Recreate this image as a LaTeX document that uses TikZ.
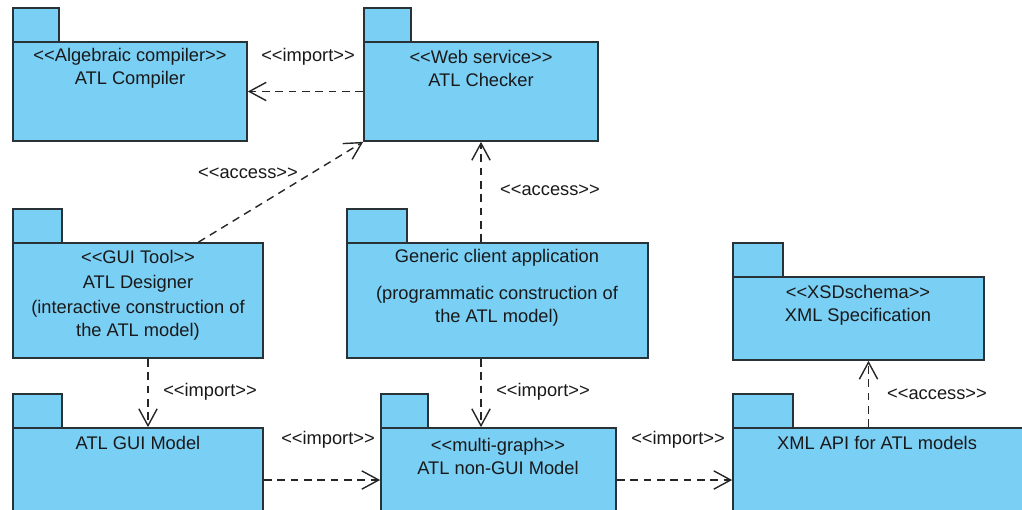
\documentclass[tikz,border=0pt]{standalone}
\usepackage{fontspec}
\setmainfont{Liberation Sans}[Ligatures=TeXOff]
\usetikzlibrary{arrows.meta,fit,calc}
\definecolor{pkgblue}{RGB}{122,207,245}
\definecolor{pkgline}{RGB}{40,50,55}
\tikzset{
  pkg/.style={draw=pkgline, line width=1.2pt, fill=pkgblue, inner sep=0pt},
  pkgtext/.style={align=center, text=black!90, inner sep=1pt, font=\fontsize{13}{16.3}\selectfont},
  dep/.style={draw=black!85, line width=1pt, dash pattern=on 5.5pt off 4pt,
    -{Straight Barb[length=12pt,width=13pt,line width=1pt]}},
}
\begin{document}
\begin{tikzpicture}[x=0.025cm, y=-0.025cm]
  \useasboundingbox (0,0) rectangle (1022,509);
  \clip (0,0) rectangle (1022,509);

  % ATL Compiler
  \draw[pkg] (13,8) rectangle (59,42);
  \node[pkg, fit={(13,42) (247,141)}] (compiler) {};
  \node[pkgtext] (compilername) at (130,68) {<<Algebraic compiler>>\\ATL Compiler};

  % ATL Checker
  \draw[pkg] (364,8) rectangle (411,42);
  \node[pkg, fit={(364,42) (598,141)}] (checker) {};
  \node[pkgtext] (checkername) at (481,68) {<<Web service>>\\ATL Checker};

  % ATL Designer
  \draw[pkg] (13,209) rectangle (62,243);
  \node[pkg, fit={(13,243) (263,358)}] (designer) {};
  \node[pkgtext] (designername) at (138,295) {<<GUI Tool>>\\[2pt]ATL Designer\\[1pt](interactive construction of\\the ATL model)};

  % Generic client application
  \draw[pkg] (347,209) rectangle (407,243);
  \node[pkg, fit={(347,243) (648,358)}] (generic) {};
  \node[pkgtext] (genericname) at (497,288) {Generic client application\\[10pt](programmatic construction of\\the ATL model)};

  % XML Specification
  \draw[pkg] (733,243) rectangle (783,277);
  \node[pkg, fit={(733,277) (984,360)}] (xmlspec) {};
  \node[pkgtext] (xmlspecname) at (858,305) {<<XSDschema>>\\XML Specification};

  % ATL GUI Model
  \draw[pkg] (13,394) rectangle (62,428);
  \node[pkg, fit={(13,428) (263,520)}] (guimodel) {};
  \node[pkgtext] (guimodelname) at (138,443) {ATL GUI Model};

  % ATL non-GUI Model
  \draw[pkg] (381,394) rectangle (428,428);
  \node[pkg, fit={(381,428) (616,520)}] (nongui) {};
  \node[pkgtext] (nonguiname) at (498,456) {<<multi-graph>>\\ATL non-GUI Model};

  % XML API for ATL models
  \draw[pkg] (733,394) rectangle (793,428);
  \node[pkg, fit={(733,428) (1030,520)}] (xmlapi) {};
  \node[pkgtext] (xmlapiname) at (877,443) {XML API for ATL models};

  % dependencies
  \coordinate (specin) at ($(xmlspec.south)+(10,0)$);
  \draw[dep] (checker.west) -- (compiler.east);
  \draw[dep] (designer.44) -- (checker.south west);
  \draw[dep] (generic.north -| checker.south) -- (checker.south);
  \draw[dep] ($(designer.south)+(10,0)$) -- ($(guimodel.north)+(10,0)$);
  \draw[dep] (generic.south -| checker.south) -- (nongui.north -| checker.south);
  \draw[dep] ($(guimodel.east)+(0,6)$) -- ($(nongui.west)+(0,6)$);
  \draw[dep] ($(nongui.east)+(0,6)$) -- ($(xmlapi.west)+(0,6)$);
  \draw[dep] (xmlapi.north -| specin) -- (specin);

  % stereotypes of the dependencies
  \node[pkgtext] (impcompiler) at (308,57) {<<import>>};
  \node[pkgtext] (accdesigner) at (248,173) {<<access>>};
  \node[pkgtext] (accgeneric) at (550,190) {<<access>>};
  \node[pkgtext] (impdesigner) at (210,392) {<<import>>};
  \node[pkgtext] (impgeneric) at (543,392) {<<import>>};
  \node[pkgtext] (impgui) at (328,440) {<<import>>};
  \node[pkgtext] (impnongui) at (678,440) {<<import>>};
  \node[pkgtext] (accxmlapi) at (937,394) {<<access>>};
\end{tikzpicture}
\end{document}
